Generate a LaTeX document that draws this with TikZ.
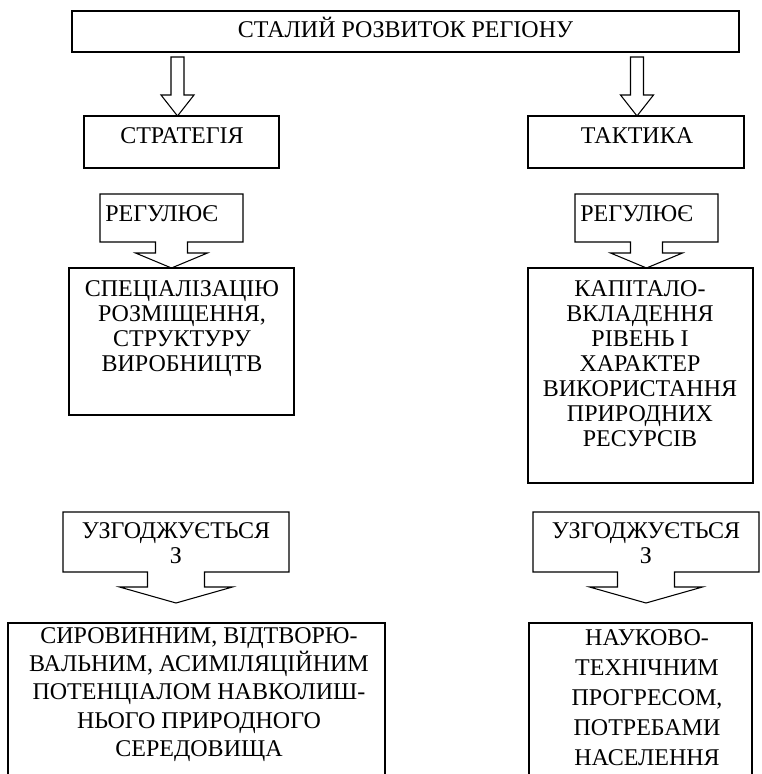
\documentclass[tikz,border=0pt]{standalone}
\usepackage{fontspec}
\setmainfont{Liberation Serif}
\usetikzlibrary{calc,fit}
% hollow block arrow: #1 = point on the upper box, #2 = tip
\newcommand\hollowarrow[2]{%
  \draw[outline] ($(#2 |- #1)+(-6.5,5)$) -- ($(#2)+(-6.5,-21)$) -- ($(#2)+(-16.5,-21)$)
    -- (#2) -- ($(#2)+(16.5,-21)$) -- ($(#2)+(6.5,-21)$) -- ($(#2 |- #1)+(6.5,5)$) -- cycle;}
% box with a down arrow: #1 = box node, #2 = tip, #3 shaft half width, #4 head half width, #5 shaft drop
\newcommand\calloutdown[5]{%
  \draw[outline] (#1.north west) -- (#1.north east) -- (#1.south east)
    -- ($(#2 |- #1.south)+(#3,0)$) -- ($(#2 |- #1.south)+(#3,#5)$) -- ($(#2 |- #1.south)+(#4,#5)$)
    -- (#2) -- ($(#2 |- #1.south)+(-#4,#5)$) -- ($(#2 |- #1.south)+(-#3,#5)$)
    -- ($(#2 |- #1.south)+(-#3,0)$) -- (#1.south west) -- cycle;}
\begin{document}
\begin{tikzpicture}[x=0.75pt,y=-0.75pt,
  frame/.style={draw=black, line width=0.8pt, inner sep=0pt, outer sep=0pt},
  area/.style={inner sep=0pt, outer sep=0pt},
  outline/.style={draw=black, line width=0.8pt, line join=miter},
  txt/.style={inner sep=0pt, font=\fontsize{18}{18.75}\selectfont, align=center},
  loose/.style={font=\fontsize{18}{21.3}\selectfont},
  looser/.style={font=\fontsize{18}{22.5}\selectfont}]
\useasboundingbox (0,0) rectangle (761,774);
\clip (0,0) rectangle (761,774);

% boxes
\node[frame, fit={(72,11) (739,52)}] (top) {};
\node[frame, fit={(84,116) (279,168)}] (strat) {};
\node[frame, fit={(528,116) (744,168)}] (takt) {};
\node[area, fit={(100,194) (243,242)}] (reg1) {};
\node[area, fit={(575,194) (718,242)}] (reg2) {};
\node[frame, fit={(69,268) (294,415)}] (spec) {};
\node[frame, fit={(528,268) (753,483)}] (kap) {};
\node[area, fit={(63,512) (289,572)}] (uz1) {};
\node[area, fit={(533,512) (759,572)}] (uz2) {};
\node[frame, fit={(8,623) (385,800)}] (res1) {};
\node[frame, fit={(529,623) (752,800)}] (res2) {};

% arrows from the top box
\coordinate (tipL) at ($(strat.north)+(-4,0)$);
\coordinate (tipR) at ($(takt.north)+(1,0)$);
\hollowarrow{top.south}{tipL}
\hollowarrow{top.south}{tipR}

% callouts
\coordinate (tipReg1) at (reg1.south |- spec.north);
\coordinate (tipReg2) at (reg2.south |- kap.north);
\calloutdown{reg1}{tipReg1}{16}{36}{11}
\calloutdown{reg2}{tipReg2}{16}{36}{11}
\coordinate (tipUz1) at ($(uz1.south)+(0,31)$);
\coordinate (tipUz2) at ($(uz2.south)+(0,31)$);
\calloutdown{uz1}{tipUz1}{28.5}{56.5}{15}
\calloutdown{uz2}{tipUz2}{28.5}{56.5}{15}

% texts
\node[txt, anchor=base] (ttop) at (405.5,38) {СТАЛИЙ РОЗВИТОК РЕГІОНУ};
\node[txt, anchor=base] (tstrat) at (182,143) {СТРАТЕГІЯ};
\node[txt, anchor=base] (ttakt) at (637,143) {ТАКТИКА};
\node[txt, anchor=base west] (treg1) at (105,221) {РЕГУЛЮЄ};
\node[txt, anchor=base west] (treg2) at (580,221) {РЕГУЛЮЄ};
\node[txt, anchor=north] (tspec) at (182,273.2)
  {\rule{0pt}{17pt}СПЕЦІАЛІЗАЦІЮ\\РОЗМІЩЕННЯ,\\СТРУКТУРУ\\ВИРОБНИЦТВ};
\node[txt, anchor=north] (tkap) at (640,273.2)
  {\rule{0pt}{17pt}КАПІТАЛО-\\ВКЛАДЕННЯ\\РІВЕНЬ І\\ХАРАКТЕР\\ВИКОРИСТАННЯ\\ПРИРОДНИХ\\РЕСУРСІВ};
\node[txt, anchor=north] (tuz1) at (176,515.2) {\rule{0pt}{17pt}УЗГОДЖУЄТЬСЯ\\З};
\node[txt, anchor=north] (tuz2) at (646,515.2) {\rule{0pt}{17pt}УЗГОДЖУЄТЬСЯ\\З};
\node[txt, loose, anchor=north] (tres1) at (199,620.2)
  {\rule{0pt}{17pt}СИРОВИННИМ, ВІДТВОРЮ-\\ВАЛЬНИМ, АСИМІЛЯЦІЙНИМ\\ПОТЕНЦІАЛОМ НАВКОЛИШ-\\НЬОГО ПРИРОДНОГО\\СЕРЕДОВИЩА};
\node[txt, looser, anchor=north] (tres2) at (647,622.2)
  {\rule{0pt}{17pt}НАУКОВО-\\ТЕХНІЧНИМ\\ПРОГРЕСОМ,\\ПОТРЕБАМИ\\НАСЕЛЕННЯ};
\end{tikzpicture}
\end{document}
